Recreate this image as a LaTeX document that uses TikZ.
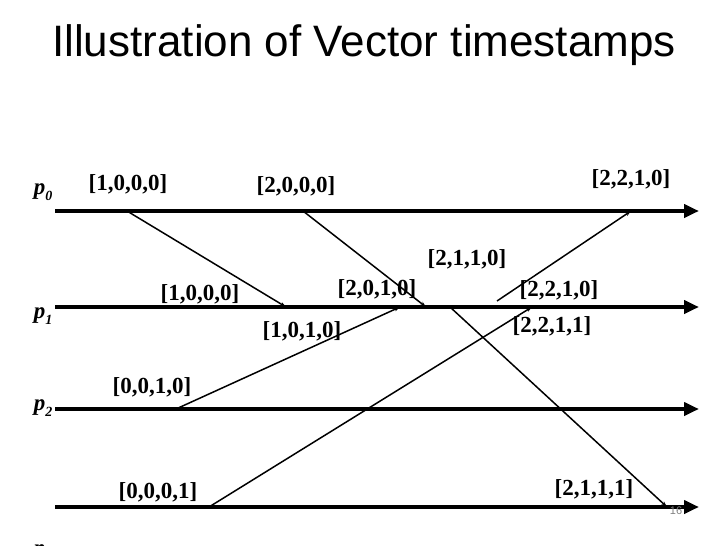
\documentclass[tikz,border=0pt]{standalone}
\usepackage{fontspec}
\setmainfont{Liberation Serif}
\setsansfont{Liberation Sans}
\usetikzlibrary{arrows.meta}
\begin{document}
\begin{tikzpicture}[x=1pt,y=-1pt,
  timeline/.style={line width=4pt,-{Triangle[length=15pt,width=13pt]}},
  msg/.style={line width=1.5pt,-{Stealth[length=6pt,width=4pt]}},
  stamp/.style={inner sep=0pt,font=\fontsize{23}{23}\selectfont\bfseries},
  proc/.style={inner sep=0pt,font=\fontsize{23}{23}\selectfont\bfseries\itshape}]
\useasboundingbox (0,0) rectangle (728,546);
% title
\node[inner sep=0pt,font=\sffamily\fontsize{44}{44}\selectfont] (title) at (364,45) {Illustration of Vector timestamps};
% process labels
\node[proc] (lp0) at (43,192) {p\raisebox{-0.25em}{\fontsize{14}{14}\selectfont 0}};
\node[proc] (lp1) at (43,316) {p\raisebox{-0.25em}{\fontsize{14}{14}\selectfont 1}};
\node[proc] (lp2) at (43,408) {p\raisebox{-0.25em}{\fontsize{14}{14}\selectfont 2}};
\node[proc] (lp3) at (43,553) {p\raisebox{-0.25em}{\fontsize{14}{14}\selectfont 3}};
% timelines
\coordinate (s0) at (55,211); \coordinate (e0) at (699,211);
\coordinate (s1) at (55,307); \coordinate (e1) at (699,307);
\coordinate (s2) at (55,409); \coordinate (e2) at (699,409);
\coordinate (s3) at (55,507); \coordinate (e3) at (699,507);
\draw[timeline] (s0) -- (e0);
\draw[timeline] (s1) -- (e1);
\draw[timeline] (s2) -- (e2);
\draw[timeline] (s3) -- (e3);
% events
\coordinate (a1) at (127,211); \coordinate (b1) at (286,307);
\coordinate (a2) at (303,211); \coordinate (b2) at (426,307);
\coordinate (a3) at (176,409); \coordinate (b3) at (400,307);
\coordinate (a4) at (497,301); \coordinate (b4) at (631,211);
\coordinate (a5) at (209,507); \coordinate (b5) at (532,307);
\coordinate (a6) at (450,307); \coordinate (b6) at (667,507);
\draw[msg] (a1) -- (b1);
\draw[msg] (a2) -- (b2);
\draw[msg] (a3) -- (b3);
\draw[msg] (a4) -- (b4);
\draw[msg] (a5) -- (b5);
\draw[msg] (a6) -- (b6);
% stamps
\node[stamp] (t1) at (128,184) {[1,0,0,0]};
\node[stamp] (t2) at (296,186) {[2,0,0,0]};
\node[stamp] (t3) at (631,179) {[2,2,1,0]};
\node[stamp] (t4) at (467,259) {[2,1,1,0]};
\node[stamp] (t5) at (200,294) {[1,0,0,0]};
\node[stamp] (t6) at (377,289) {[2,0,1,0]};
\node[stamp] (t7) at (559,290) {[2,2,1,0]};
\node[stamp] (t8) at (302,331) {[1,0,1,0]};
\node[stamp] (t9) at (552,326) {[2,2,1,1]};
\node[stamp] (t10) at (152,387) {[0,0,1,0]};
\node[stamp] (t11) at (158,492) {[0,0,0,1]};
\node[stamp] (t12) at (594,489) {[2,1,1,1]};
\node[inner sep=0pt,font=\sffamily\fontsize{11}{11}\selectfont,text=gray] (pg) at (676,511) {16};
\end{tikzpicture}
\end{document}
